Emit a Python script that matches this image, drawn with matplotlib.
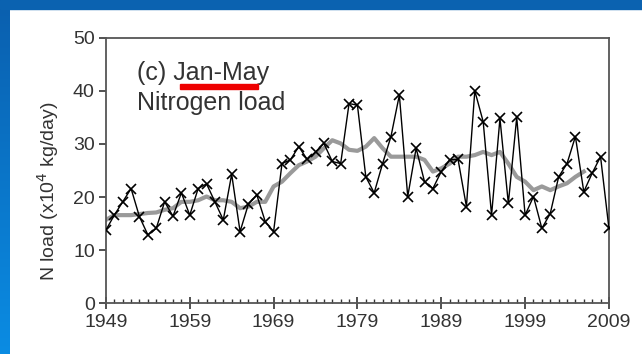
import numpy as np
import matplotlib
matplotlib.use("Agg")
import matplotlib.pyplot as plt
from matplotlib.patches import Rectangle
from matplotlib.ticker import MultipleLocator

plt.rcParams['font.family'] = ['Liberation Sans', 'DejaVu Sans']

# annual Jan-May nitrogen load (x10^4 kg/day), 1949-2009
years = np.arange(1949, 2010)
n_load = [13.8, 16.6, 19.1, 21.6, 16.3, 12.9, 14.1, 19.1, 16.4, 20.8,
          16.6, 21.6, 22.5, 19.1, 15.7, 24.3, 13.5, 18.7, 20.4, 15.4,
          13.5, 26.3, 27.0, 29.5, 27.1, 28.5, 30.1, 26.7, 26.3, 37.6,
          37.3, 23.8, 20.8, 26.3, 31.4, 39.2, 20.1, 29.2, 22.9, 21.6,
          24.8, 27.0, 27.1, 18.2, 40.0, 34.2, 16.6, 34.8, 18.8, 35.0,
          16.6, 20.1, 14.1, 16.9, 23.8, 26.3, 31.4, 21.0, 24.5, 27.6,
          14.1]

# smoothed trend (grey line), 1949-2006
trend_years = np.arange(1949, 2007)
trend = [15.7, 16.6, 16.6, 16.6, 16.8, 17.0, 17.1, 17.6, 17.9, 19.1,
         19.1, 19.4, 20.1, 19.4, 19.4, 19.1, 17.9, 18.2, 19.1, 19.1,
         22.0, 22.9, 24.5, 26.0, 26.7, 27.6, 29.2, 30.7, 30.1, 28.9,
         28.7, 29.5, 31.1, 29.2, 27.6, 27.6, 27.6, 27.6, 27.0, 24.8,
         25.4, 26.3, 27.6, 27.6, 27.9, 28.5, 27.9, 28.5, 26.3, 23.8,
         22.9, 21.3, 22.0, 21.3, 22.0, 22.6, 23.8, 24.8]

fig = plt.figure(figsize=(6.42, 3.54), dpi=100)
fig.patch.set_facecolor('white')

# slide frame: blue strips on top and left
grad = np.linspace(0, 1, 256).reshape(-1, 1)
cmap = matplotlib.colors.LinearSegmentedColormap.from_list('b', ['#0b5fae', '#0a8ce3'])
lax = fig.add_axes([0, 0, 10 / 642, 1])
lax.imshow(grad, aspect='auto', cmap=cmap)
lax.axis('off')
fig.patches.append(Rectangle((0, 1 - 9 / 354), 1, 9 / 354, transform=fig.transFigure,
                             color='#0b62b0', zorder=5))

ax = fig.add_axes([0.165, 0.1432, 0.7835, 0.7503])
ax.plot(trend_years, trend, color='#9a9a9a', lw=3, zorder=2)
ax.plot(years, n_load, color='black', lw=1, marker='x', ms=7, mew=1.2, zorder=3)

ax.set_xlim(1949, 2009)
ax.set_ylim(0, 50)
ax.set_xticks(np.arange(1949, 2010, 10))
ax.xaxis.set_minor_locator(MultipleLocator(1))
ax.set_yticks(np.arange(0, 51, 10))
ax.tick_params(axis='x', which='major', direction='inout', length=9, width=1.2,
               labelsize=14, pad=3, colors='#333333')
ax.tick_params(axis='x', which='minor', direction='in', length=3, width=1, colors='#333333')
ax.tick_params(axis='y', which='major', direction='out', length=5, width=1.2,
               labelsize=14, pad=3, colors='#333333')
for s in ax.spines.values():
    s.set_color('#555555')
    s.set_linewidth(1.3)

ax.set_ylabel('N load (x10$^4$ kg/day)', fontsize=14, color='#333333')
ax.yaxis.set_label_coords(-0.09, 0.42)

ax.text(0.062, 0.841, '(c) Jan-May', transform=ax.transAxes, fontsize=18,
        color='#333333', va='baseline')
ax.text(0.062, 0.728, 'Nitrogen load', transform=ax.transAxes, fontsize=18,
        color='#333333', va='baseline')
# red highlight under "Jan-May"
fig.patches.append(Rectangle((180 / 642, 1 - 89 / 354), 78 / 642, 5 / 354,
                             transform=fig.transFigure, color='#ee0000', zorder=6))

fig.savefig('out.png', dpi=100)
